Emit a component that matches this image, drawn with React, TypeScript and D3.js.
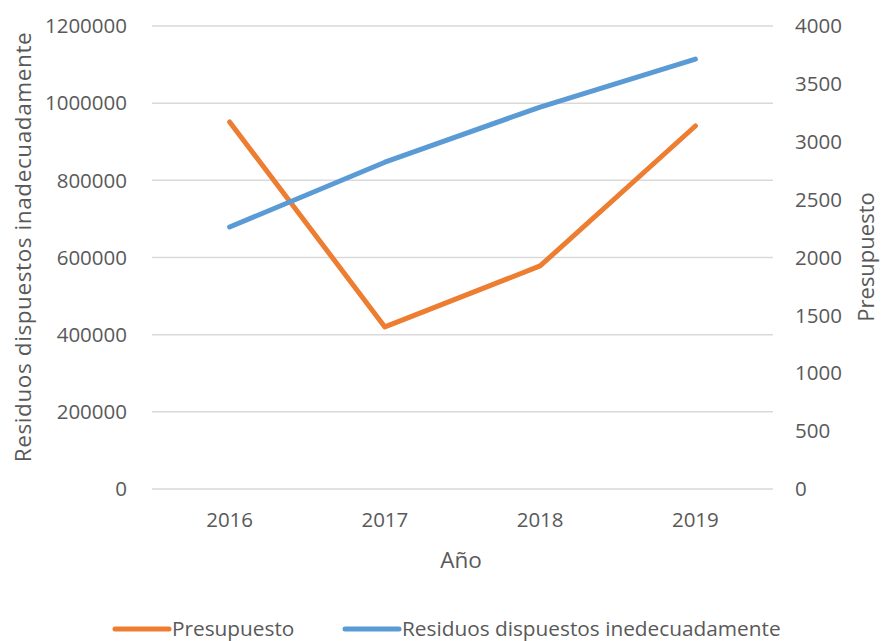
import { useEffect, useRef } from 'react';
import * as d3 from 'd3';

const years = ['2016', '2017', '2018', '2019'];
const residuos = [679000, 847000, 990000, 1114000];
const presupuesto = [3171, 1400, 1927, 3136];
const leftTicks = [0, 200000, 400000, 600000, 800000, 1000000, 1200000];
const rightTicks = [0, 500, 1000, 1500, 2000, 2500, 3000, 3500, 4000];

const FONT = '"Open Sans", sans-serif';
const TEXT = '#595959';
const ORANGE = '#ED7D31';
const BLUE = '#5B9BD5';

export default function App() {
  const svgRef = useRef<SVGSVGElement>(null);

  useEffect(() => {
    if (!svgRef.current) return;
    const svg = d3.select(svgRef.current);
    svg.selectAll('*').remove();

    const plot = { left: 152, right: 773, top: 26, bottom: 489 };

    const x = d3.scalePoint<string>().domain(years).range([plot.left, plot.right]).padding(0.5);
    const yL = d3.scaleLinear().domain([0, 1200000]).range([plot.bottom, plot.top]);
    const yR = d3.scaleLinear().domain([0, 4000]).range([plot.bottom, plot.top]);

    // gridlines
    svg.append('g')
      .selectAll('line')
      .data(leftTicks)
      .join('line')
      .attr('x1', plot.left)
      .attr('x2', plot.right)
      .attr('y1', (d) => yL(d))
      .attr('y2', (d) => yL(d))
      .attr('stroke', '#D9D9D9')
      .attr('stroke-width', 1.5);

    // left ticks
    svg.append('g')
      .selectAll('text')
      .data(leftTicks)
      .join('text')
      .attr('x', 127)
      .attr('y', (d) => yL(d))
      .attr('dy', '0.35em')
      .attr('text-anchor', 'end')
      .attr('font-family', FONT)
      .attr('font-size', 20.5)
      .attr('fill', TEXT)
      .text((d) => String(d));

    // right ticks
    svg.append('g')
      .selectAll('text')
      .data(rightTicks)
      .join('text')
      .attr('x', 795)
      .attr('y', (d) => yR(d))
      .attr('dy', '0.35em')
      .attr('text-anchor', 'start')
      .attr('font-family', FONT)
      .attr('font-size', 20.5)
      .attr('fill', TEXT)
      .text((d) => String(d));

    // x labels
    svg.append('g')
      .selectAll('text')
      .data(years)
      .join('text')
      .attr('x', (d) => x(d)!)
      .attr('y', 527)
      .attr('text-anchor', 'middle')
      .attr('font-family', FONT)
      .attr('font-size', 20.5)
      .attr('fill', TEXT)
      .text((d) => d);

    // axis titles
    svg.append('text')
      .attr('transform', 'translate(31,247) rotate(-90)')
      .attr('text-anchor', 'middle')
      .attr('font-family', FONT)
      .attr('font-size', 22.5)
      .attr('letter-spacing', 0.6)
      .attr('fill', TEXT)
      .text('Residuos dispuestos inadecuadamente');

    svg.append('text')
      .attr('transform', 'translate(874,257) rotate(-90)')
      .attr('text-anchor', 'middle')
      .attr('font-family', FONT)
      .attr('font-size', 22)
      .attr('fill', TEXT)
      .text('Presupuesto');

    svg.append('text')
      .attr('x', 461)
      .attr('y', 568)
      .attr('text-anchor', 'middle')
      .attr('font-family', FONT)
      .attr('font-size', 22.5)
      .attr('fill', TEXT)
      .text('Año');

    // lines
    const lineL = d3.line<number>().x((_, i) => x(years[i])!).y((d) => yL(d));
    const lineR = d3.line<number>().x((_, i) => x(years[i])!).y((d) => yR(d));

    svg.append('path')
      .attr('d', lineR(presupuesto)!)
      .attr('fill', 'none')
      .attr('stroke', ORANGE)
      .attr('stroke-width', 5)
      .attr('stroke-linecap', 'round')
      .attr('stroke-linejoin', 'round');

    svg.append('path')
      .attr('d', lineL(residuos)!)
      .attr('fill', 'none')
      .attr('stroke', BLUE)
      .attr('stroke-width', 5)
      .attr('stroke-linecap', 'round')
      .attr('stroke-linejoin', 'round');

    // legend
    const legend = [
      { name: 'Presupuesto', color: ORANGE, x: 115 },
      { name: 'Residuos dispuestos inedecuadamente', color: BLUE, x: 345 },
    ];
    const lg = svg.append('g').selectAll('g').data(legend).join('g')
      .attr('transform', (d) => `translate(${d.x},629)`);
    lg.append('line')
      .attr('x1', 0)
      .attr('x2', 54)
      .attr('stroke', (d) => d.color)
      .attr('stroke-width', 5)
      .attr('stroke-linecap', 'round');
    lg.append('text')
      .attr('x', 57)
      .attr('dy', '0.35em')
      .attr('font-family', FONT)
      .attr('font-size', 20.8)
      .attr('fill', TEXT)
      .text((d) => d.name);
  }, []);

  return (
    <svg
      ref={svgRef}
      width={882}
      height={641}
      style={{ position: 'absolute', left: 0, top: 0, background: '#fff' }}
    />
  );
}
